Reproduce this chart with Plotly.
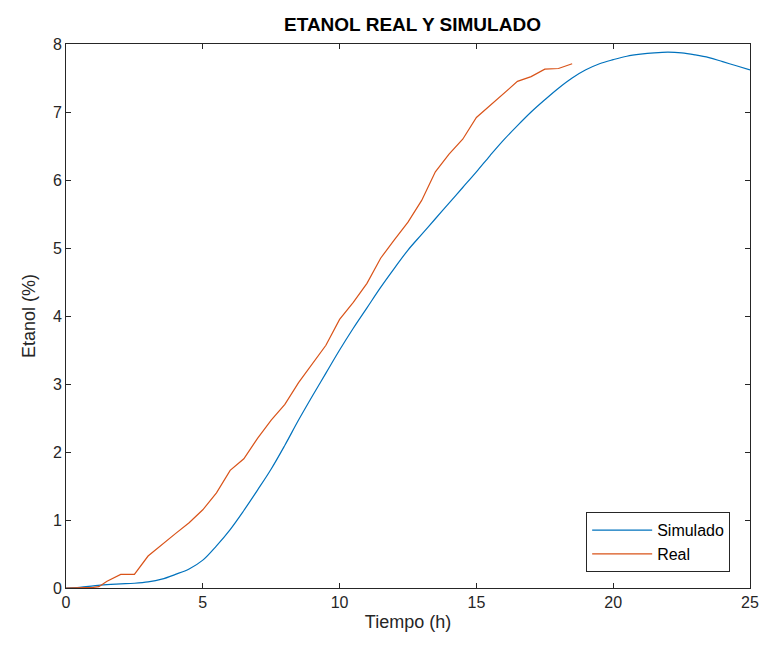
import plotly.graph_objects as go

# Simulated ethanol (%) vs time (h)
sim_t = [0, 0.5, 1, 1.5, 2, 2.5, 3, 3.5, 4, 4.5, 5, 5.5, 6, 6.5, 7, 7.5, 8, 8.5, 9, 9.5,
         10, 10.5, 11, 11.5, 12, 12.5, 13, 13.5, 14, 14.5, 15, 15.5, 16, 16.5, 17, 17.5,
         18, 18.5, 19, 19.5, 20, 20.5, 21, 21.5, 22, 22.5, 23, 23.5, 24, 24.5, 25]
sim_y = [0, 0.01, 0.03, 0.05, 0.06, 0.07, 0.09, 0.13, 0.2, 0.28, 0.41, 0.62, 0.86, 1.14,
         1.44, 1.75, 2.1, 2.47, 2.82, 3.16, 3.5, 3.82, 4.12, 4.42, 4.7, 4.97, 5.2, 5.43,
         5.66, 5.89, 6.12, 6.36, 6.59, 6.8, 7.0, 7.18, 7.35, 7.5, 7.62, 7.71, 7.77, 7.82,
         7.85, 7.87, 7.88, 7.87, 7.84, 7.8, 7.74, 7.68, 7.62]

# Real ethanol (%) vs time (h)
real_t = [0, 0.5, 1.0, 1.2, 1.5, 2.0, 2.5, 3.0, 3.5, 4.0, 4.5, 5.0, 5.5, 6.0, 6.5, 7.0,
          7.5, 8.0, 8.5, 9.0, 9.5, 10.0, 10.5, 11.0, 11.5, 12.0, 12.5, 13.0, 13.5, 14.0,
          14.5, 15.0, 15.5, 16.0, 16.5, 17.0, 17.5, 18.0, 18.5]
real_y = [0, 0, 0.01, 0.02, 0.1, 0.2, 0.2, 0.47, 0.64, 0.8, 0.96, 1.15, 1.4, 1.73, 1.9,
          2.2, 2.47, 2.7, 3.02, 3.3, 3.57, 3.95, 4.2, 4.48, 4.85, 5.12, 5.38, 5.7, 6.12,
          6.38, 6.6, 6.92, 7.1, 7.28, 7.45, 7.52, 7.63, 7.64, 7.71]

x_ticks = [0, 5, 10, 15, 20, 25]
y_ticks = [0, 1, 2, 3, 4, 5, 6, 7, 8]

FONT = "Liberation Sans, Arial, sans-serif"
AX = "#262626"

fig = go.Figure()
fig.add_trace(go.Scatter(x=sim_t, y=sim_y, mode="lines", name="Simulado",
                         line=dict(color="#0072BD", width=1.2, shape="spline")))
fig.add_trace(go.Scatter(x=real_t, y=real_y, mode="lines", name="Real",
                         line=dict(color="#D95319", width=1.2)))

axis_common = dict(showgrid=False, zeroline=False, showline=True, mirror="ticks",
                   linecolor=AX, linewidth=1, ticks="inside", ticklen=5,
                   tickcolor=AX, tickwidth=1,
                   tickfont=dict(family=FONT, size=16, color=AX))

fig.update_layout(
    width=771, height=653,
    margin=dict(l=66, r=13, t=44, b=65),
    paper_bgcolor="white", plot_bgcolor="white",
    title=dict(text="<b>ETANOL REAL Y SIMULADO</b>", x=0.535, xanchor="center",
               y=0.962, yanchor="middle",
               font=dict(family=FONT, size=19, color="black")),
    xaxis=dict(range=[0, 25], tickvals=x_ticks,
               title=dict(text="Tiempo (h)", standoff=5,
                          font=dict(family=FONT, size=18, color=AX)),
               **axis_common),
    yaxis=dict(range=[0, 8], tickvals=y_ticks,
               title=dict(text="Etanol (%)", standoff=12,
                          font=dict(family=FONT, size=18, color=AX)),
               **axis_common),
    legend=dict(x=0.971, xanchor="right", y=0.029, yanchor="bottom",
                bgcolor="white", bordercolor=AX, borderwidth=1,
                font=dict(family=FONT, size=16, color="black"),
                itemwidth=60, tracegroupgap=0),
    showlegend=True,
)

fig.write_html("out.html")
